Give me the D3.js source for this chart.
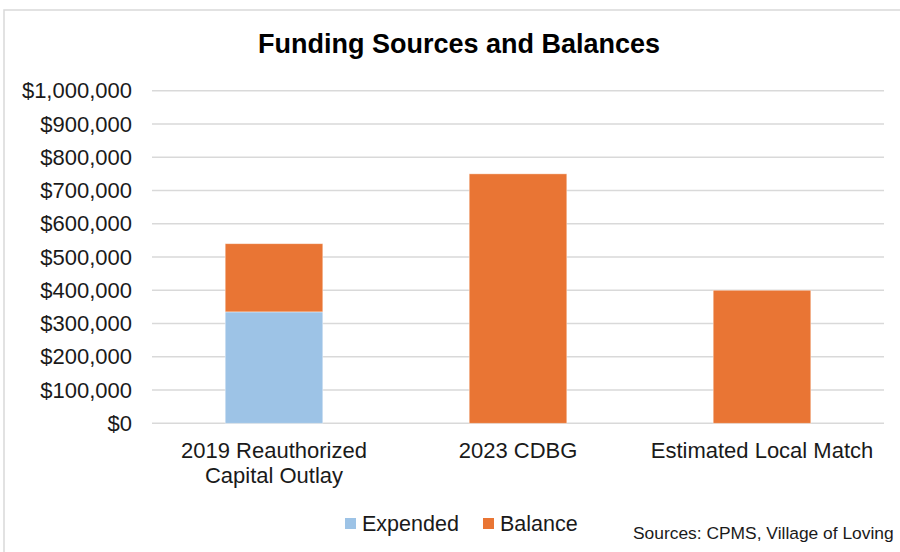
<!DOCTYPE html>
<html><head><meta charset="utf-8">
<script src="https://cdn.jsdelivr.net/npm/d3@7"></script>
<style>
body{margin:0;background:#fff;}
svg text{font-family:"Liberation Sans",Arial,sans-serif;}
</style></head>
<body>
<svg id="chart" width="900" height="552"></svg>
<script>
const categories = [["2019 Reauthorized","Capital Outlay"],["2023 CDBG"],["Estimated Local Match"]];
const expended = [335000, 0, 0];
const balance = [205000, 750000, 400000];
const yTicks = [0,100000,200000,300000,400000,500000,600000,700000,800000,900000,1000000];
const seriesNames = ["Expended","Balance"];
const colors = ["#9DC3E6","#E97534"];
const title = "Funding Sources and Balances";
const source = "Sources: CPMS, Village of Loving";

const svg = d3.select("#chart");
svg.append("rect").attr("x",4).attr("y",10).attr("width",960).attr("height",600)
  .attr("fill","#fff").attr("stroke","#D9D9D9").attr("stroke-width",1.5);

const x = d3.scaleBand().domain(d3.range(categories.length)).range([152,884]).paddingInner(0.6).paddingOuter(0.3);
const y = d3.scaleLinear().domain([0,1000000]).range([423.3,90.7]);

svg.append("g").selectAll("line").data(yTicks).join("line")
  .attr("x1",152).attr("x2",884).attr("y1",d=>y(d)).attr("y2",d=>y(d))
  .attr("stroke","#D9D9D9").attr("stroke-width",1.5);

const fmt = d3.format("$,.0f");
svg.append("g").selectAll("text").data(yTicks).join("text")
  .attr("x",132).attr("y",d=>y(d)).attr("dy","0.35em").attr("text-anchor","end")
  .attr("font-size",22).attr("fill","#1a1a1a").text(d=>fmt(d));

const stackData = categories.map((c,i)=>({i, Expended:expended[i], Balance:balance[i]}));
const stack = d3.stack().keys(seriesNames)(stackData);
svg.append("g").selectAll("g").data(stack).join("g").attr("fill",(d,i)=>colors[i])
  .selectAll("rect").data(d=>d.filter(p=>p[1]>p[0])).join("rect")
  .attr("x",d=>x(d.data.i)).attr("width",x.bandwidth())
  .attr("y",d=>y(d[1])).attr("height",d=>y(d[0])-y(d[1]))
  .attr("stroke","#fff").attr("stroke-opacity",0.5).attr("stroke-width",0.8);

const cat = svg.append("g").selectAll("text").data(categories).join("text")
  .attr("x",(d,i)=>x(i)+x.bandwidth()/2).attr("y",458).attr("text-anchor","middle")
  .attr("font-size",22).attr("fill","#1a1a1a");
cat.selectAll("tspan").data(d=>d).join("tspan")
  .attr("x",function(){return d3.select(this.parentNode).attr("x");})
  .attr("dy",(d,j)=>j===0?0:25).text(d=>d);

svg.append("text").attr("x",459).attr("y",53).attr("text-anchor","middle")
  .attr("font-size",27).attr("font-weight","bold").attr("fill","#000").text(title);

const legX = [345,483];
const leg = svg.append("g").selectAll("g").data(seriesNames).join("g");
leg.append("rect").attr("x",(d,i)=>legX[i]).attr("y",518).attr("width",11).attr("height",11).attr("fill",(d,i)=>colors[i]);
leg.append("text").attr("x",(d,i)=>legX[i]+17).attr("y",531).attr("font-size",21.5).attr("fill","#1a1a1a").text(d=>d);

svg.append("text").attr("x",633).attr("y",539).attr("font-size",17.4).attr("fill","#1a1a1a").text(source);
</script>
</body></html>
